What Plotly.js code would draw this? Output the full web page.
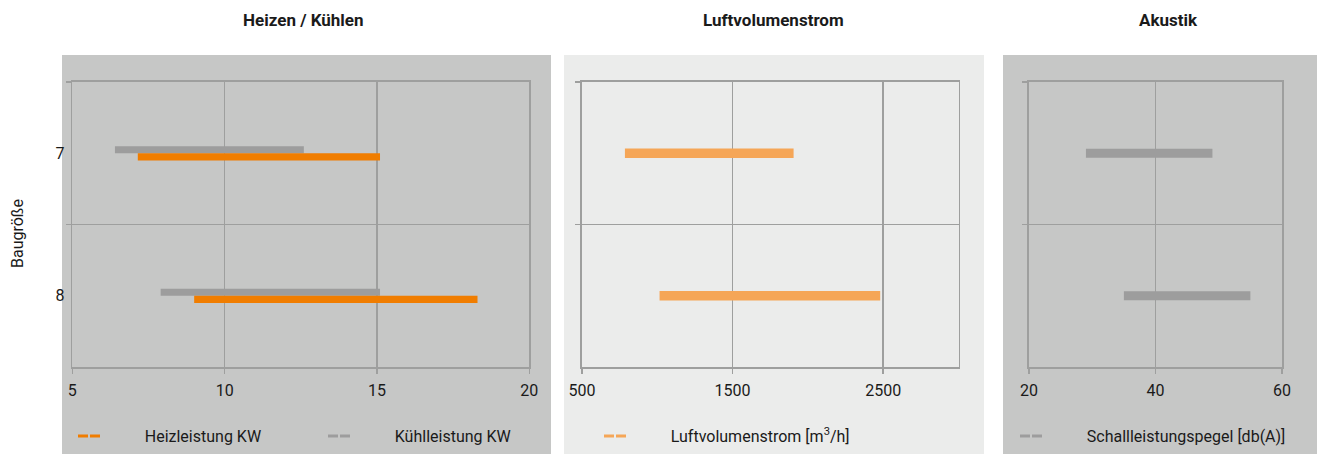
<!DOCTYPE html>
<html><head><meta charset="utf-8">
<script src="https://cdn.plot.ly/plotly-3.0.1.min.js"></script>
<style>html,body{margin:0;padding:0;background:#fff;} #chart{width:1324px;height:454px;}</style>
</head><body><div id="chart"></div>
<script>
// ---- data ----
const baugroesse = ['7', '8'];
const heizMin = [7.15, 9.0];
const heizMax = [15.1, 18.3];
const kuehlMin = [6.4, 7.9];
const kuehlMax = [12.6, 15.1];
const luftMin = [785, 1015];
const luftMax = [1905, 2480];
const schallMin = [29, 35];
const schallMax = [49, 55];
const ticks1 = [5, 10, 15, 20];
const ticks2 = [500, 1500, 2500];
const ticks3 = [20, 40, 60];
const panelTitles = ['Heizen / Kühlen', 'Luftvolumenstrom', 'Akustik'];
const seriesNames = ['Heizleistung KW', 'Kühlleistung KW', 'Luftvolumenstrom [m<sup>3</sup>/h]', 'Schallleistungspegel [db(A)]'];
const yTitle = 'Baugröße';

// ---- styling ----
const W = 1324, H = 454;
const fx = p => p / W, fy = p => 1 - p / H;
const FONT = 'Roboto, "Open Sans", sans-serif';
const txt = '#1a1a1a';
const grid = '#9e9f9e';
const cOrange = '#f07d00', cGray = '#9d9d9d', cLight = '#f5a657';
const bgGray = '#c6c7c6', bgLight = '#ebeceb';
const pad = '\u00a0\u00a0\u00a0\u00a0\u00a0\u00a0\u00a0\u00a0';
const legDash = '10px,2px,10px,20px';

const len = (a, b) => a.map((v, i) => b[i] - v);

const traces = [
  {type: 'bar', orientation: 'h', y: baugroesse, base: kuehlMin, x: len(kuehlMin, kuehlMax),
   offset: -0.05, width: 0.05, marker: {color: cGray}, xaxis: 'x', yaxis: 'y', showlegend: false, name: seriesNames[1]},
  {type: 'bar', orientation: 'h', y: baugroesse, base: heizMin, x: len(heizMin, heizMax),
   offset: 0, width: 0.05, marker: {color: cOrange}, xaxis: 'x', yaxis: 'y', showlegend: false, name: seriesNames[0]},
  {type: 'bar', orientation: 'h', y: baugroesse, base: luftMin, x: len(luftMin, luftMax),
   offset: -0.033, width: 0.066, marker: {color: cLight}, xaxis: 'x2', yaxis: 'y2', showlegend: false, name: seriesNames[2]},
  {type: 'bar', orientation: 'h', y: baugroesse, base: schallMin, x: len(schallMin, schallMax),
   offset: -0.031, width: 0.062, marker: {color: cGray}, xaxis: 'x3', yaxis: 'y3', showlegend: false, name: seriesNames[3]},
  // legend entries
  {type: 'scatter', mode: 'lines', x: [null], y: [null], xaxis: 'x', yaxis: 'y', name: pad + seriesNames[0],
   line: {color: cOrange, width: 3, dash: legDash}, legend: 'legend', hoverinfo: 'skip'},
  {type: 'scatter', mode: 'lines', x: [null], y: [null], xaxis: 'x', yaxis: 'y', name: pad + seriesNames[1],
   line: {color: cGray, width: 3, dash: legDash}, legend: 'legend2', hoverinfo: 'skip'},
  {type: 'scatter', mode: 'lines', x: [null], y: [null], xaxis: 'x2', yaxis: 'y2', name: pad + seriesNames[2],
   line: {color: cLight, width: 3, dash: legDash}, legend: 'legend3', hoverinfo: 'skip'},
  {type: 'scatter', mode: 'lines', x: [null], y: [null], xaxis: 'x3', yaxis: 'y3', name: pad + seriesNames[3],
   line: {color: cGray, width: 3, dash: legDash}, legend: 'legend4', hoverinfo: 'skip'}
];

const yDom = [fy(367), fy(82)];
function xax(domain, range, tickvals) {
  return {domain: domain, range: range, tickvals: tickvals, showgrid: true, gridcolor: grid, gridwidth: 1.6,
    showline: true, mirror: true, linecolor: grid, linewidth: 1.6, zeroline: false,
    ticks: 'outside', ticklen: 5, tickwidth: 1.5, tickcolor: grid, automargin: false, ticklabelstandoff: 3,
    tickfont: {family: FONT, size: 16, color: txt}, fixedrange: true};
}
function yax(anchor, labels) {
  return {domain: yDom, type: 'category', categoryarray: baugroesse, categoryorder: 'array', range: [1.5, -0.5],
    anchor: anchor, tickson: 'boundaries', showgrid: true, gridcolor: grid, gridwidth: 1.6,
    showline: true, mirror: true, linecolor: grid, linewidth: 1.6, zeroline: false,
    ticks: 'outside', ticklen: 5, tickwidth: 1.5, tickcolor: grid, showticklabels: labels, automargin: false,
    ticklabelstandoff: 3, tickfont: {family: FONT, size: 16, color: txt}, fixedrange: true};
}
function leg(xp) {
  return {x: fx(xp), y: fy(436), xanchor: 'left', yanchor: 'middle', orientation: 'h', bgcolor: 'rgba(0,0,0,0)',
    itemwidth: 30, font: {family: FONT, size: 16, color: txt}, itemclick: false, itemdoubleclick: false};
}
const titleFont = {family: FONT, size: 17, color: txt};

const layout = {
  width: W, height: H, margin: {l: 0, r: 0, t: 0, b: 0},
  paper_bgcolor: '#ffffff', plot_bgcolor: 'rgba(0,0,0,0)',
  barmode: 'overlay', font: {family: FONT, color: txt},
  xaxis: xax([fx(72.3), fx(529.3)], [5, 20], ticks1),
  xaxis2: xax([fx(582), fx(958.5)], [500, 3000], ticks2),
  xaxis3: xax([fx(1029), fx(1282)], [20, 60], ticks3),
  yaxis: yax('x', true), yaxis2: yax('x2', false), yaxis3: yax('x3', false),
  legend: leg(73), legend2: leg(323), legend3: leg(599), legend4: leg(1015),
  shapes: [
    {type: 'rect', xref: 'paper', yref: 'paper', x0: fx(62), x1: fx(551), y0: 0, y1: fy(55), fillcolor: bgGray, line: {width: 0}, layer: 'below'},
    {type: 'rect', xref: 'paper', yref: 'paper', x0: fx(564), x1: fx(984), y0: 0, y1: fy(55), fillcolor: bgLight, line: {width: 0}, layer: 'below'},
    {type: 'rect', xref: 'paper', yref: 'paper', x0: fx(1003), x1: fx(1317), y0: 0, y1: fy(55), fillcolor: bgGray, line: {width: 0}, layer: 'below'}
  ],
  annotations: [
    {text: '<b>' + panelTitles[0] + '</b>', x: fx(303), y: fy(20), xref: 'paper', yref: 'paper', xanchor: 'center', yanchor: 'middle', showarrow: false, font: titleFont},
    {text: '<b>' + panelTitles[1] + '</b>', x: fx(773), y: fy(20), xref: 'paper', yref: 'paper', xanchor: 'center', yanchor: 'middle', showarrow: false, font: titleFont},
    {text: '<b>' + panelTitles[2] + '</b>', x: fx(1168), y: fy(20), xref: 'paper', yref: 'paper', xanchor: 'center', yanchor: 'middle', showarrow: false, font: titleFont},
    {text: yTitle, x: fx(17), y: fy(234), xref: 'paper', yref: 'paper', xanchor: 'center', yanchor: 'middle', textangle: -90, showarrow: false, font: {family: FONT, size: 16, color: txt}}
  ],
  showlegend: true, hovermode: false
};

Plotly.newPlot('chart', traces, layout, {displayModeBar: false, staticPlot: true});
</script>
</body></html>
